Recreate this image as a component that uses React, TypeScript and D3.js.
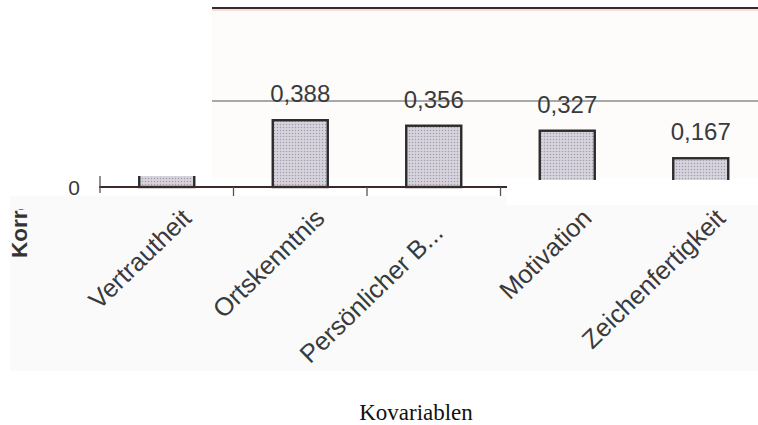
import React from "react";
import * as d3 from "d3";

const categories = ["Vertrautheit", "Ortskenntnis", "Persönlicher B...", "Motivation", "Zeichenfertigkeit"];
const values = [0.45, 0.388, 0.356, 0.327, 0.167];
const yTicks = [0];
const gridValues = [0.5];
const yTitle = "Korrelation";
const xTitle = "Kovariablen";

const W = 758;
const H = 425;

export default function App() {
  const y = d3.scaleLinear().domain([0, 1.04]).range([187, 8]);
  const pi = 1 - 55 / 133.5;
  const x = d3.scaleBand<string>().domain(categories).range([100, 767.5]).paddingInner(pi).paddingOuter(pi / 2);
  const step = x.step();
  const fmt = (v: number) => d3.format(".3f")(v).replace(".", ",");
  const y0 = y(0);
  const tickXs = d3.range(categories.length + 1).map((i) => 100 + i * step);

  return (
    <svg width={W} height={H} style={{ position: "absolute", left: 0, top: 0, display: "block" }}>
      <defs>
        <pattern id="dots" width="3" height="3" patternUnits="userSpaceOnUse">
          <rect width="3" height="3" fill="#d8d4de" />
          <circle cx="1.5" cy="1.5" r="0.75" fill="#a19dab" />
        </pattern>
        <clipPath id="ytitleClip">
          <rect x="0" y="209" width="60" height="100" />
        </clipPath>
      </defs>
      <rect x="0" y="0" width={W} height={H} fill="#ffffff" />
      <rect x="10" y="196" width={W - 10} height="175" fill="#fafafa" />
      <rect x="212" y="8" width={W - 212} height="170" fill="#fdfcfa" />
      {/* top border of plot */}
      <line x1="212" x2={W} y1={y(1.04) + 2} y2={y(1.04) + 2} stroke="#f3e2d2" strokeWidth="2" />
      <line x1="212" x2={W} y1={y(1.04)} y2={y(1.04)} stroke="#3b2834" strokeWidth="2.2" />
      {gridValues.map((g) => (
        <line key={g} x1="212" x2={W} y1={y(g)} y2={y(g)} stroke="#555" strokeWidth="1.1" />
      ))}
      {categories.map((c, i) => (
        <g key={c}>
          <rect
            x={x(c)}
            y={y(values[i])}
            width={x.bandwidth()}
            height={y0 - y(values[i])}
            fill="url(#dots)"
            stroke="#2b2b2b"
            strokeWidth="2.4"
          />
          <text
            x={(x(c) as number) + x.bandwidth() / 2}
            y={y(values[i]) - 18}
            textAnchor="middle"
            fontFamily="'Liberation Sans', Arial, sans-serif"
            fontSize="24"
            fill="#3a3a3a"
          >
            {fmt(values[i])}
          </text>
        </g>
      ))}
      {/* baseline and ticks */}
      <line x1="99" x2="767" y1={y0} y2={y0} stroke="#3a2a2a" strokeWidth="2" />
      {tickXs.map((tx, i) => (
        <line
          key={i}
          x1={tx}
          x2={tx}
          y1={i === 0 ? y0 - 12 : y0}
          y2={i === 0 ? y0 + 6 : y0 + 9}
          stroke="#555"
          strokeWidth="1.3"
        />
      ))}
      {yTicks.map((t) => (
        <text
          key={t}
          x="80"
          y={y(t) + 8}
          textAnchor="end"
          fontFamily="'Liberation Sans', Arial, sans-serif"
          fontSize="21"
          fill="#3a3a3a"
        >
          {String(t)}
        </text>
      ))}
      {/* occluding white patches of the scan */}
      <rect x="0" y="0" width="212" height="176" fill="#ffffff" />
      <rect x="507" y="180" width={W - 507} height="25" fill="#ffffff" />
      {/* category labels */}
      {categories.map((c) => {
        const cx = (x(c) as number) + x.bandwidth() / 2 + 26;
        const truncated = c.endsWith("...");
        return (
          <text
            key={c}
            transform={`translate(${cx},220) rotate(-44)`}
            dx={truncated ? -21 : 0}
            textAnchor="end"
            fontFamily="'Liberation Sans', Arial, sans-serif"
            fontSize="25.5"
            fill="#3a3a3a"
          >
            {c}
          </text>
        );
      })}
      <g clipPath="url(#ytitleClip)">
        <text
          transform="translate(27,258) rotate(-90)"
          textAnchor="start"
          fontFamily="'Liberation Sans', Arial, sans-serif"
          fontWeight="bold"
          fontSize="22.5"
          fill="#333"
        >
          {yTitle}
        </text>
      </g>
      <text
        x="416"
        y="420"
        textAnchor="middle"
        fontFamily="'Liberation Serif', 'Times New Roman', serif"
        fontSize="23"
        fill="#111"
      >
        {xTitle}
      </text>
    </svg>
  );
}
